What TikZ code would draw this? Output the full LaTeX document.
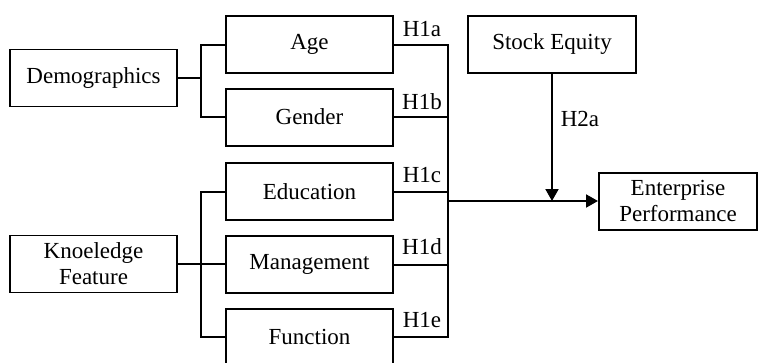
\documentclass[tikz,border=0pt]{standalone}
\usepackage{fontspec}
\setmainfont{Liberation Serif}
\usetikzlibrary{arrows.meta}
\begin{document}
\begin{tikzpicture}[x=1pt,y=-1pt,
  box/.style={draw,line width=2pt,minimum width=167pt,minimum height=57pt,inner sep=0pt,align=center,font=\fontsize{23}{26}\selectfont},
  thinbox/.style={box,line width=1.4pt},
  lbl/.style={inner sep=0pt,font=\fontsize{23}{26}\selectfont},
  conn/.style={line width=2pt},
  arr/.style={conn,-{Triangle[length=12pt,width=13pt]}}]
\useasboundingbox (0,0) rectangle (758,362);
\node[thinbox] (demo) at (93.5,78) {Demographics};
\node[thinbox] (know) at (93.5,264) {Knoeledge\\Feature};
\node[box] (age) at (309.5,44.5) {Age};
\node[box] (gender) at (309.5,117) {Gender};
\node[box] (edu) at (309.5,191.5) {Education};
\node[box] (mgmt) at (309.5,264.5) {Management};
\node[box] (func) at (309.5,337) {Function};
\node[box,minimum width=168pt] (stock) at (552,44.5) {Stock Equity};
\node[box,minimum width=158pt] (ent) at (678,201) {Enterprise\\Performance};
\coordinate (dj) at (201,78);
\coordinate (kj) at (201,264.5);
\coordinate (bus) at (448,201);
\draw[conn] (demo.east) -- (dj);
\draw[conn] (age.west) -| (dj) |- (gender.west);
\draw[conn] (know.east) -- (know.east -| mgmt.west);
\draw[conn] (edu.west) -| (kj) |- (func.west);
\draw[conn] (age.east) -| (bus) |- (func.east);
\draw[conn] (gender.east) -- (gender.east -| bus);
\draw[conn] (edu.east) -- (edu.east -| bus);
\draw[conn] (mgmt.east) -- (mgmt.east -| bus);
\draw[arr] (bus) -- (ent.west);
\draw[arr] (stock.south) -- (stock.south |- bus);
\node[lbl] (h1a) at (422,29) {H1a};
\node[lbl] (h1b) at (422,102) {H1b};
\node[lbl] (h1c) at (422,175) {H1c};
\node[lbl] (h1d) at (422,247) {H1d};
\node[lbl] (h1e) at (422,320) {H1e};
\node[lbl] (h2a) at (580,119) {H2a};
\end{tikzpicture}
\end{document}
